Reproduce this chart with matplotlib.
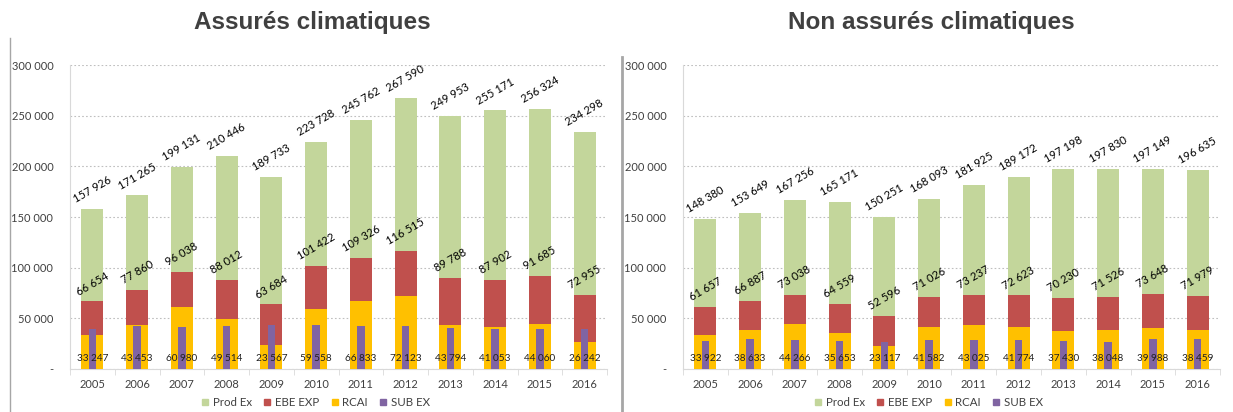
import matplotlib
matplotlib.use("Agg")
import matplotlib.pyplot as plt
from matplotlib.lines import Line2D
from matplotlib.ticker import FuncFormatter, FixedLocator
import numpy as np

years = ["2005", "2006", "2007", "2008", "2009", "2010", "2011", "2012", "2013", "2014", "2015", "2016"]

# Assurés climatiques
a_prod = [157926, 171265, 199131, 210446, 189733, 223728, 245762, 267590, 249953, 255171, 256324, 234298]
a_ebe = [66654, 77860, 96038, 88012, 63684, 101422, 109326, 116515, 89788, 87902, 91685, 72955]
a_rcai = [33247, 43453, 60980, 49514, 23567, 59558, 66833, 72123, 43794, 41053, 44060, 26242]
a_sub = [39800, 42800, 41100, 42800, 43400, 43100, 42100, 42100, 40800, 39500, 39800, 39100]

# Non assurés climatiques
n_prod = [148380, 153649, 167256, 165171, 150251, 168093, 181925, 189172, 197198, 197830, 197149, 196635]
n_ebe = [61657, 66887, 73038, 64559, 52596, 71026, 73237, 72623, 70230, 71526, 73648, 71979]
n_rcai = [33922, 38633, 44266, 35653, 23117, 41582, 43025, 41774, 37430, 38048, 39988, 38459]
n_sub = [28000, 29900, 28300, 27600, 26600, 28300, 28600, 28300, 27600, 27000, 29600, 29900]

series_names = ["Prod Ex", "EBE EXP", "RCAI", "SUB EX"]
titles = ["Assurés climatiques", "Non assurés climatiques"]

C_GREEN = "#C3D69B"
C_RED = "#C0504D"
C_YEL = "#FFC000"
C_PUR = "#8064A2"
GRID = "#BFBFBF"
TXT = "#404040"

W, H = 1233, 412
fig = plt.figure(figsize=(W / 100, H / 100), dpi=100)
fig.patch.set_facecolor("white")

small_font = "Lato"

def fmt(v):
    return f"{int(v):,}".replace(",", " ")

def ytick(v, pos):
    if v == 0:
        return "-"
    return fmt(v)

def draw(rect, prod, ebe, rcai, sub, title, title_x):
    ax = fig.add_axes(rect)
    x = np.arange(len(years))
    bw = 0.49
    ax.bar(x, prod, width=bw, color=C_GREEN, zorder=2)
    ax.bar(x, ebe, width=bw, color=C_RED, zorder=3)
    ax.bar(x, rcai, width=bw, color=C_YEL, zorder=4)
    ax.bar(x, sub, width=0.165, color=C_PUR, zorder=5)
    ax.set_xlim(-0.5, len(years) - 0.5)
    ax.set_ylim(0, 300000)
    ax.yaxis.set_major_locator(FixedLocator([0, 50000, 100000, 150000, 200000, 250000, 300000]))
    ax.yaxis.set_major_formatter(FuncFormatter(ytick))
    ax.grid(axis="y", color=GRID, linestyle=(0, (1.5, 2)), linewidth=0.8, zorder=0)
    ax.set_axisbelow(True)
    for s in ["top", "right"]:
        ax.spines[s].set_visible(False)
    ax.spines["left"].set_color("#D9D9D9")
    ax.spines["bottom"].set_color("#D9D9D9")
    ax.tick_params(axis="y", length=0, labelsize=8, labelcolor=TXT, pad=12)
    ax.set_xticks(x)
    ax.set_xticklabels(years, fontsize=8, color=TXT, family=small_font)
    ax.tick_params(axis="x", length=0, pad=7)
    ax.set_xticks(np.arange(-0.5, len(years)), minor=True)
    ax.tick_params(axis="x", which="minor", length=4, color="#D9D9D9")
    for lab in ax.get_yticklabels():
        lab.set_family(small_font)
    for i in range(len(years)):
        ax.annotate(fmt(prod[i]), (x[i], prod[i]), xytext=(0, 3), textcoords="offset points",
                    ha="center", va="bottom", rotation=30, fontsize=8, family=small_font, color="black", zorder=6)
        ax.annotate(fmt(ebe[i]), (x[i], ebe[i]), xytext=(0, 3), textcoords="offset points",
                    ha="center", va="bottom", rotation=30, fontsize=8, family=small_font, color="black", zorder=6)
        ax.text(x[i], 0.033, fmt(rcai[i]), transform=ax.get_xaxis_transform(),
                ha="center", va="center", fontsize=7.2, family=small_font, color="#202020", zorder=6)
    fig.text(title_x / W, 1 - 23 / H, title, ha="center", va="center", fontsize=17.5,
             fontweight="bold", family="Liberation Sans", color=TXT)
    return ax

ax1 = draw([70 / W, 43 / H, 537 / W, 304 / H], a_prod, a_ebe, a_rcai, a_sub, titles[0], 312)
ax2 = draw([683 / W, 43 / H, 537 / W, 304 / H], n_prod, n_ebe, n_rcai, n_sub, titles[1], 931)

colors = [C_GREEN, C_RED, C_YEL, C_PUR]
handles = [Line2D([], [], linestyle="none", marker="s", markersize=4, markerfacecolor=c, markeredgecolor=c)
           for c in colors]
for cx in [316, 929]:
    fig.legend(handles, series_names, loc="center", bbox_to_anchor=(cx / W, 1 - 403 / H), ncol=4,
               frameon=False, handlelength=0.5, handletextpad=0.4,
               columnspacing=1.1, prop={"family": small_font, "size": 8.3}, labelcolor=TXT)

fig.add_artist(Line2D([10 / W, 10 / W], [0, 1 - 38 / H], transform=fig.transFigure, color="#A6A6A6", linewidth=1))
fig.add_artist(Line2D([622 / W, 622 / W], [0, 1 - 57 / H], transform=fig.transFigure, color="#A6A6A6", linewidth=2))

fig.savefig("out.png", dpi=100)
